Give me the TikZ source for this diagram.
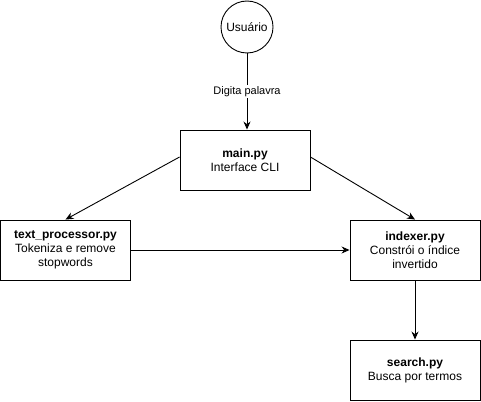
\documentclass[tikz,border=0pt]{standalone}
\usepackage{fontspec}
\setmainfont{Liberation Sans}
\usetikzlibrary{arrows.meta}
\begin{document}
\begin{tikzpicture}[x=1pt,y=-1pt,
  box/.style={draw, line width=0.9pt, minimum width=130pt, minimum height=60pt, align=center, font=\fontsize{12}{14}\selectfont, inner sep=0pt},
  conn/.style={draw, line width=0.9pt, -{Stealth[length=8pt,width=7pt]}},
  lbl/.style={fill=white, font=\fontsize{11}{13}\selectfont, inner sep=1pt}]
\useasboundingbox (0,0) rectangle (481,401);
\node[draw, circle, line width=0.9pt, minimum size=52pt, inner sep=0pt, font=\fontsize{12}{14}\selectfont] (user) at (247,27) {Usuário};
\node[box] (main) at (245,160) {\textbf{main.py}\\Interface CLI};
\node[box] (tp) at (65.5,250) {\textbf{text\_processor.py}\\Tokeniza e remove\\stopwords};
\node[box] (idx) at (415,250) {\textbf{indexer.py}\\Constrói o índice\\invertido};
\node[box] (search) at (415,370) {\textbf{search.py}\\Busca por termos};
\draw[conn] (user) -- node[lbl] (lab) {Digita palavra} (user |- main.north);
\draw[conn] ([yshift=3pt]main.west) -- (tp.north);
\draw[conn] ([yshift=3pt]main.east) -- (idx.north);
\draw[conn] (tp) -- (idx);
\draw[conn] (idx) -- (search);
\end{tikzpicture}
\end{document}
